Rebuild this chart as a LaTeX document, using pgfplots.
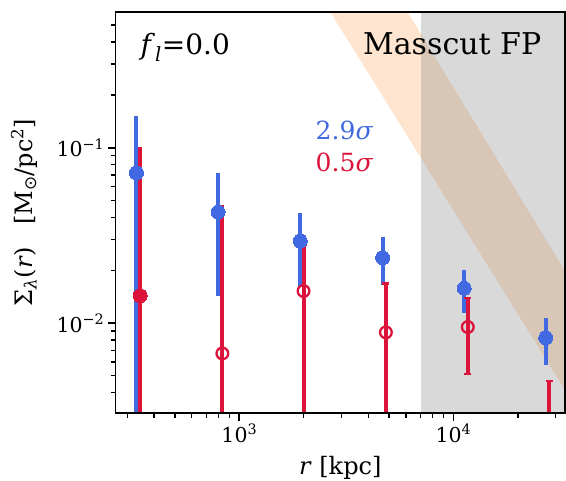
\documentclass[border=0pt]{standalone}
\usepackage{fontspec}
\setmainfont{DejaVu Serif}
\newfontfamily\dvsans{DejaVu Sans}
\usepackage{pgfplots}
\pgfplotsset{compat=1.18}
\definecolor{rblue}{RGB}{65,105,225}
\definecolor{crim}{RGB}{220,20,60}
\definecolor{band}{RGB}{255,127,14}
\begin{document}
\begin{tikzpicture}
\begin{axis}[
  at={(115.5pt,68pt)}, anchor=south west,
  scale only axis, width=449.5pt, height=401pt,
  xmode=log, ymode=log,
  xmin=264, xmax=33200, ymin=0.00307, ymax=0.594,
  axis on top,
  axis line style={line width=1.8pt},
  tick align=outside,
  xtick pos=left, ytick pos=left,
  xtick={1000,10000}, xticklabels={10\textsuperscript{3},10\textsuperscript{4}},
  ytick={0.01,0.1}, yticklabels={10\textsuperscript{−2},10\textsuperscript{−1}},
  minor xtick={300,400,500,600,700,800,900,2000,3000,4000,5000,6000,7000,8000,9000,20000,30000},
  minor ytick={0.004,0.005,0.006,0.007,0.008,0.009,0.02,0.03,0.04,0.05,0.06,0.07,0.08,0.09,0.2,0.3,0.4,0.5},
  major tick length=7.7pt, minor tick length=4.6pt,
  major tick style={line width=1.8pt, black},
  minor tick style={line width=1.3pt, black},
  tick label style={font=\fontsize{20.5}{24}\selectfont},
  xlabel={\textit{r} [kpc]},
  ylabel={Σ\textsubscript{\textit{λ}}(\textit{r})\hspace{22pt}[M\textsubscript{\dvsans ⊙}/pc\textsuperscript{2}]},
  every axis x label/.style={at={(axis description cs:0.5,-0.1546)}, anchor=base, inner sep=0pt, font=\fontsize{24}{28}\selectfont},
  every axis y label/.style={at={(axis description cs:-0.1849,0.5)}, anchor=base, inner sep=0pt, rotate=90, font=\fontsize{24}{28}\selectfont},
]
% shaded regions
\addplot[draw=none, fill=band, fill opacity=0.2, forget plot] coordinates {
  (1000,4.07) (63096,0.001173) (63096,0.00545) (1000,22.5)};
\addplot[draw=none, fill=gray, fill opacity=0.3, forget plot] coordinates {
  (7030,0.001) (100000,0.001) (100000,1) (7030,1)};
% blue error bars
\addplot[draw=none, mark=none, forget plot,
  error bars/.cd, y dir=both, y explicit, error mark=none,
  error bar style={draw=rblue, line width=4pt}] coordinates {
  (330.7,0.0718) += (0,0.0802) -= (0,0.0708)
  (796,0.0430) += (0,0.0288) -= (0,0.0287)
  (1926,0.0294) += (0,0.0130) -= (0,0.0133)
  (4668,0.02358) += (0,0.00752) -= (0,0.0071)
  (11220,0.01578) += (0,0.00422) -= (0,0.00432)
  (26980,0.00824) += (0,0.00244) -= (0,0.00246)
};
% red error bars without caps
\addplot[draw=none, mark=none, forget plot,
  error bars/.cd, y dir=both, y explicit, error mark=none,
  error bar style={draw=crim, line width=4pt}] coordinates {
  (344.1,0.01432) += (0,0.08668) -= (0,0.01332)
  (833,0.00671) += (0,0.04039) -= (0,0.00571)
};
% red error bars with caps
\addplot[draw=none, mark=none, forget plot,
  error bars/.cd, y dir=both, y explicit, error mark=|,
  error bar style={draw=crim, line width=4pt},
  error mark options={draw=crim, line width=2.3pt, mark size=3.4pt}] coordinates {
  (1995,0.01522) += (0,0.01268) -= (0,0.01422)
  (4836,0.00885) += (0,0.00799) -= (0,0.00785)
  (11670,0.00949) += (0,0.00445) -= (0,0.00435)
  (28050,0.002) += (0,0.00267) -= (0,0.001)
};
% markers
\addplot[only marks, color=rblue, mark=*, mark size=7pt, mark options={fill=rblue, draw=rblue, line width=0pt}] coordinates {
  (330.7,0.0718) (796,0.0430) (1926,0.0294) (4668,0.02358) (11220,0.01578) (26980,0.00824)};
\addplot[only marks, color=crim, mark=*, mark size=7pt, mark options={fill=crim, draw=crim, line width=0pt}] coordinates {
  (344.1,0.01432)};
\addplot[only marks, color=crim, mark=o, mark size=5.85pt, mark options={draw=crim, line width=2.3pt, fill=white}] coordinates {
  (833,0.00671) (1995,0.01522) (4836,0.00885) (11670,0.00949)};
% texts
\node[anchor=base west, font=\fontsize{28}{32}\selectfont] at (axis description cs:0.0479,0.8928) {\textit{f}\textsubscript{\textit{l}}=0.0};
\node[anchor=base east, font=\fontsize{30}{34}\selectfont] at (axis description cs:0.955,0.8928) {Masscut FP};
\node[anchor=base west, font=\fontsize{25}{28}\selectfont, text=rblue] at (axis description cs:0.4376,0.6825) {2.9\textit{σ}};
\node[anchor=base west, font=\fontsize{25}{28}\selectfont, text=crim] at (axis description cs:0.4376,0.6017) {0.5\textit{σ}};
\end{axis}
\pgfresetboundingbox
\useasboundingbox (0,0) rectangle (566pt,481pt);
\end{tikzpicture}
\end{document}
